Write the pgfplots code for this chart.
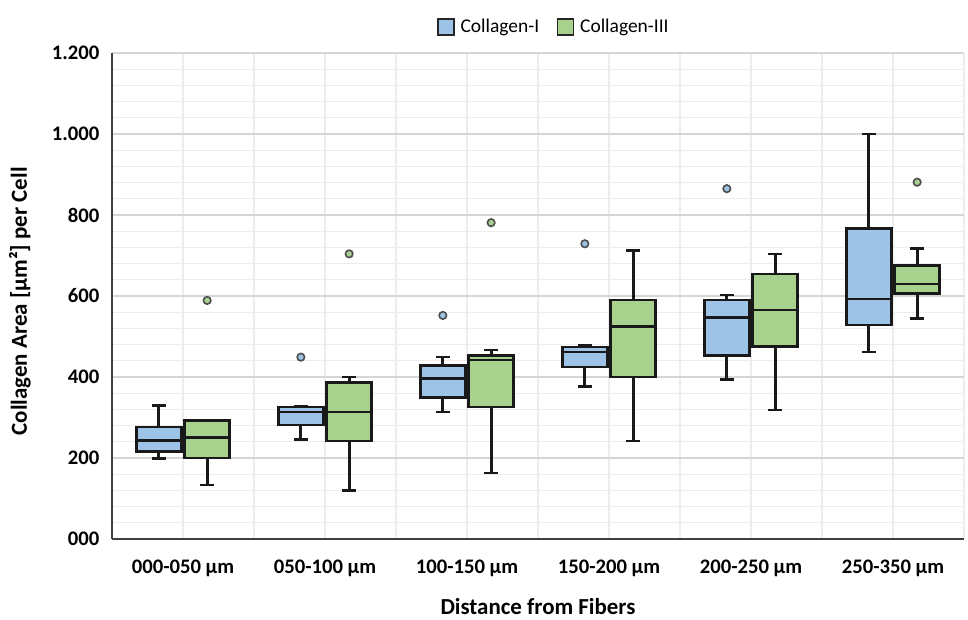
\documentclass[border=0pt]{standalone}
\usepackage{fontspec}
\setmainfont{Carlito}
\usepackage{pgfplots}
\pgfplotsset{compat=1.18}
\definecolor{cblue}{HTML}{9DC3E6}
\definecolor{cgreen}{HTML}{A9D18E}
\pgfplotsset{
  bl/.style={draw=black!90, line width=1.8pt, mark=none, forget plot},
  cout/.style={only marks, mark=*, mark size=2.8pt, mark options={fill=#1, draw=black!70, line width=1.2pt}, forget plot},
}
% colour, position, lower whisker, lower quartile, median, upper quartile, upper whisker
\newcommand{\cbx}[7]{%
  \pgfmathsetmacro\bxa{#2-0.1585}\pgfmathsetmacro\bxb{#2+0.1585}%
  \pgfmathsetmacro\bxc{#2-0.05}\pgfmathsetmacro\bxd{#2+0.05}%
  \addplot[bl, line width=2.1pt] coordinates {(#2,#3) (#2,#4)};
  \addplot[bl, line width=2.1pt] coordinates {(#2,#6) (#2,#7)};
  \addplot[bl] coordinates {(\bxc,#3) (\bxd,#3)};
  \addplot[bl] coordinates {(\bxc,#7) (\bxd,#7)};
  \addplot[bl, fill=#1, line join=miter] coordinates {(\bxa,#4) (\bxb,#4) (\bxb,#6) (\bxa,#6) (\bxa,#4)} -- cycle;
  \addplot[bl] coordinates {(\bxa,#5) (\bxb,#5)};
}
\begin{document}
\begin{tikzpicture}
\begin{axis}[
  width=639pt, height=364.5pt, scale only axis,
  xmin=0.5, xmax=6.5, ymin=0, ymax=1200,
  axis x line=bottom, axis y line=left,
  axis line style={-, line width=1.8pt, black!75},
  xtick={1,2,3,4,5,6},
  xticklabels={000-050 µm,050-100 µm,100-150 µm,150-200 µm,200-250 µm,250-350 µm},
  minor xtick={0.5,1,1.5,2,2.5,3,3.5,4,4.5,5,5.5,6,6.5},
  ytick={0,200,400,600,800,1000,1200},
  yticklabels={000,200,400,600,800,{1.000},{1.200}},
  minor ytick={40,80,120,160,240,280,320,360,440,480,520,560,640,680,720,760,840,880,920,960,1040,1080,1120,1160},
  major tick length=0pt, minor tick length=0pt,
  xminorgrids, ymajorgrids, yminorgrids,
  major grid style={draw=black!16, line width=0.8pt},
  minor grid style={draw=black!7, line width=0.8pt},
  tick label style={font=\bfseries\fontsize{15.5}{18}\selectfont},
  xticklabel style={yshift=-12pt},
  yticklabel style={xshift=-6pt},
  xlabel={Distance from Fibers},
  ylabel={Collagen Area [µm²] per Cell},
  label style={font=\bfseries\fontsize{17.2}{20}\selectfont},
  xlabel style={at={(axis description cs:0.5,-0.14)}, anchor=center},
  ylabel style={at={(axis description cs:-0.108,0.489)}, anchor=center},
  legend image code/.code={\draw[#1, line width=1.3pt] (0pt,-6pt) rectangle (12pt,6pt); \path[draw=none, fill=none] (12pt,0pt) -- (15pt,0pt);},
  legend style={at={(0.519,1.053)}, anchor=center, draw=none, fill=none,
    font=\fontsize{14.6}{17}\selectfont, legend columns=2,
    /tikz/every even column/.append style={column sep=11pt}},
]
\addlegendimage{fill=cblue, draw=black!85}
\addlegendentry{Collagen-I}
\addlegendimage{fill=cgreen, draw=black!85}
\addlegendentry{Collagen-III}

% Collagen-I
\cbx{cblue}{0.83}{199}{216}{243}{276}{330}
\cbx{cblue}{1.83}{246}{281}{314}{326}{328}
\cbx{cblue}{2.83}{314}{349}{396}{428}{449}
\cbx{cblue}{3.83}{377}{425}{461}{474}{478}
\cbx{cblue}{4.83}{394}{453}{547}{590}{602}
\cbx{cblue}{5.83}{462}{529}{593}{767}{1000}
% Collagen-III
\cbx{cgreen}{1.17}{133}{200}{251}{293}{293}
\cbx{cgreen}{2.17}{120}{242}{314}{386}{400}
\cbx{cgreen}{3.17}{163}{326}{442}{453}{466}
\cbx{cgreen}{4.17}{242}{400}{525}{590}{712}
\cbx{cgreen}{5.17}{318}{475}{565}{654}{703}
\cbx{cgreen}{6.17}{544}{606}{629}{675}{717}
% outliers
\addplot[cout=cblue] coordinates {(1.83,449) (2.83,552) (3.83,729) (4.83,865)};
\addplot[cout=cgreen] coordinates {(1.17,589) (2.17,704) (3.17,781) (6.17,881)};
\end{axis}
\pgfresetboundingbox
\useasboundingbox (-84pt,-60.75pt) rectangle (642pt,404.25pt);
\end{tikzpicture}
\end{document}
